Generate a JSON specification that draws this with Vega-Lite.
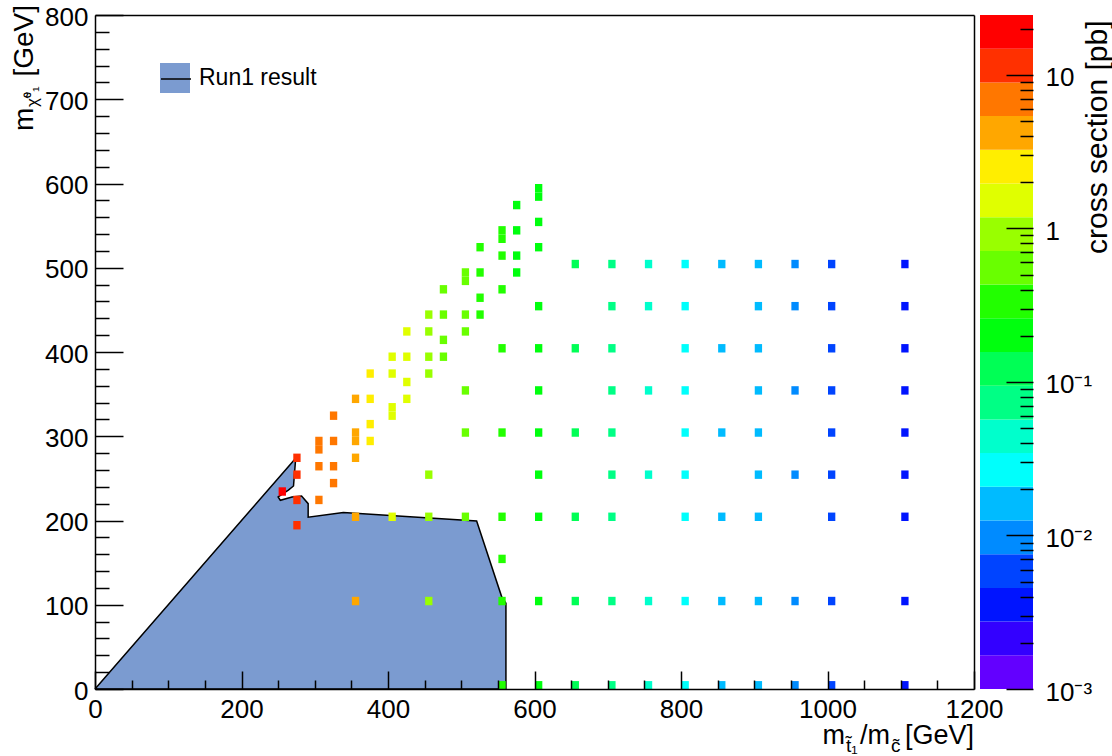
{
  "$schema": "https://vega.github.io/schema/vega-lite/v6.json",
  "background": "white",
  "padding": {"left": 11, "top": 4, "right": 0, "bottom": 0},
  "width": 879,
  "height": 674,
  "config": {
    "font": "Liberation Sans",
    "view": {"stroke": null},
    "text": {"font": "Liberation Sans", "color": "black", "baseline": "alphabetic"},
    "axis": {
      "labelFont": "Liberation Sans", "titleFont": "Liberation Sans",
      "labelColor": "black", "titleColor": "black", "tickColor": "black", "domainColor": "black",
      "labelFontSize": 26, "titleFontSize": 27, "titleFontWeight": "normal",
      "grid": false, "tickWidth": 1.5, "domainWidth": 1.5,
      "labelFlush": false, "labelOverlap": false, "labelBound": false
    }
  },
  "datasets": {
    "run1": [
      {"i": 0, "mstop": 0, "mlsp": 0},
      {"i": 1, "mstop": 274, "mlsp": 274},
      {"i": 2, "mstop": 271, "mlsp": 241},
      {"i": 3, "mstop": 264, "mlsp": 236},
      {"i": 4, "mstop": 250, "mlsp": 228},
      {"i": 5, "mstop": 253, "mlsp": 224},
      {"i": 6, "mstop": 269, "mlsp": 228},
      {"i": 7, "mstop": 282, "mlsp": 229},
      {"i": 8, "mstop": 291, "mlsp": 220},
      {"i": 9, "mstop": 291, "mlsp": 204},
      {"i": 10, "mstop": 339, "mlsp": 209.5},
      {"i": 11, "mstop": 430, "mlsp": 204.5},
      {"i": 12, "mstop": 521, "mlsp": 199.4},
      {"i": 13, "mstop": 555, "mlsp": 110},
      {"i": 14, "mstop": 561, "mlsp": 101.7},
      {"i": 15, "mstop": 561, "mlsp": 0},
      {"i": 16, "mstop": 0, "mlsp": 0}
    ],
    "cells": [
      {"mstop": 250, "mlsp": 230, "xsec": 21.5},
      {"mstop": 270, "mlsp": 270, "xsec": 13.0},
      {"mstop": 270, "mlsp": 250, "xsec": 13.0},
      {"mstop": 270, "mlsp": 220, "xsec": 13.0},
      {"mstop": 270, "mlsp": 190, "xsec": 13.0},
      {"mstop": 300, "mlsp": 290, "xsec": 8.52},
      {"mstop": 300, "mlsp": 280, "xsec": 8.52},
      {"mstop": 300, "mlsp": 260, "xsec": 8.52},
      {"mstop": 300, "mlsp": 220, "xsec": 8.52},
      {"mstop": 320, "mlsp": 320, "xsec": 5.6},
      {"mstop": 320, "mlsp": 290, "xsec": 5.6},
      {"mstop": 320, "mlsp": 260, "xsec": 5.6},
      {"mstop": 320, "mlsp": 240, "xsec": 5.6},
      {"mstop": 350, "mlsp": 340, "xsec": 3.79},
      {"mstop": 350, "mlsp": 300, "xsec": 3.79},
      {"mstop": 350, "mlsp": 290, "xsec": 3.79},
      {"mstop": 350, "mlsp": 270, "xsec": 3.79},
      {"mstop": 350, "mlsp": 200, "xsec": 3.79},
      {"mstop": 350, "mlsp": 100, "xsec": 3.79},
      {"mstop": 370, "mlsp": 370, "xsec": 2.62},
      {"mstop": 370, "mlsp": 340, "xsec": 2.62},
      {"mstop": 370, "mlsp": 310, "xsec": 2.62},
      {"mstop": 370, "mlsp": 290, "xsec": 2.62},
      {"mstop": 400, "mlsp": 390, "xsec": 1.835},
      {"mstop": 400, "mlsp": 370, "xsec": 1.835},
      {"mstop": 400, "mlsp": 330, "xsec": 1.835},
      {"mstop": 400, "mlsp": 320, "xsec": 1.835},
      {"mstop": 400, "mlsp": 200, "xsec": 1.835},
      {"mstop": 420, "mlsp": 420, "xsec": 1.31},
      {"mstop": 420, "mlsp": 390, "xsec": 1.31},
      {"mstop": 420, "mlsp": 360, "xsec": 1.31},
      {"mstop": 420, "mlsp": 340, "xsec": 1.31},
      {"mstop": 450, "mlsp": 440, "xsec": 0.948},
      {"mstop": 450, "mlsp": 420, "xsec": 0.948},
      {"mstop": 450, "mlsp": 390, "xsec": 0.948},
      {"mstop": 450, "mlsp": 370, "xsec": 0.948},
      {"mstop": 450, "mlsp": 250, "xsec": 0.948},
      {"mstop": 450, "mlsp": 200, "xsec": 0.948},
      {"mstop": 450, "mlsp": 100, "xsec": 0.948},
      {"mstop": 470, "mlsp": 470, "xsec": 0.697},
      {"mstop": 470, "mlsp": 440, "xsec": 0.697},
      {"mstop": 470, "mlsp": 410, "xsec": 0.697},
      {"mstop": 470, "mlsp": 390, "xsec": 0.697},
      {"mstop": 500, "mlsp": 490, "xsec": 0.518},
      {"mstop": 500, "mlsp": 480, "xsec": 0.518},
      {"mstop": 500, "mlsp": 440, "xsec": 0.518},
      {"mstop": 500, "mlsp": 420, "xsec": 0.518},
      {"mstop": 500, "mlsp": 350, "xsec": 0.518},
      {"mstop": 500, "mlsp": 300, "xsec": 0.518},
      {"mstop": 500, "mlsp": 200, "xsec": 0.518},
      {"mstop": 520, "mlsp": 520, "xsec": 0.39},
      {"mstop": 520, "mlsp": 490, "xsec": 0.39},
      {"mstop": 520, "mlsp": 460, "xsec": 0.39},
      {"mstop": 520, "mlsp": 440, "xsec": 0.39},
      {"mstop": 550, "mlsp": 540, "xsec": 0.296},
      {"mstop": 550, "mlsp": 530, "xsec": 0.296},
      {"mstop": 550, "mlsp": 510, "xsec": 0.296},
      {"mstop": 550, "mlsp": 470, "xsec": 0.296},
      {"mstop": 550, "mlsp": 400, "xsec": 0.296},
      {"mstop": 550, "mlsp": 300, "xsec": 0.296},
      {"mstop": 550, "mlsp": 200, "xsec": 0.296},
      {"mstop": 550, "mlsp": 150, "xsec": 0.296},
      {"mstop": 550, "mlsp": 100, "xsec": 0.296},
      {"mstop": 550, "mlsp": 0, "xsec": 0.296},
      {"mstop": 570, "mlsp": 570, "xsec": 0.227},
      {"mstop": 570, "mlsp": 540, "xsec": 0.227},
      {"mstop": 570, "mlsp": 510, "xsec": 0.227},
      {"mstop": 570, "mlsp": 490, "xsec": 0.227},
      {"mstop": 600, "mlsp": 590, "xsec": 0.175},
      {"mstop": 600, "mlsp": 580, "xsec": 0.175},
      {"mstop": 600, "mlsp": 550, "xsec": 0.175},
      {"mstop": 600, "mlsp": 520, "xsec": 0.175},
      {"mstop": 600, "mlsp": 450, "xsec": 0.175},
      {"mstop": 600, "mlsp": 400, "xsec": 0.175},
      {"mstop": 600, "mlsp": 350, "xsec": 0.175},
      {"mstop": 600, "mlsp": 300, "xsec": 0.175},
      {"mstop": 600, "mlsp": 250, "xsec": 0.175},
      {"mstop": 600, "mlsp": 200, "xsec": 0.175},
      {"mstop": 600, "mlsp": 100, "xsec": 0.175},
      {"mstop": 600, "mlsp": 0, "xsec": 0.175},
      {"mstop": 650, "mlsp": 500, "xsec": 0.107},
      {"mstop": 650, "mlsp": 400, "xsec": 0.107},
      {"mstop": 650, "mlsp": 300, "xsec": 0.107},
      {"mstop": 650, "mlsp": 200, "xsec": 0.107},
      {"mstop": 650, "mlsp": 100, "xsec": 0.107},
      {"mstop": 650, "mlsp": 0, "xsec": 0.107},
      {"mstop": 700, "mlsp": 500, "xsec": 0.067},
      {"mstop": 700, "mlsp": 450, "xsec": 0.067},
      {"mstop": 700, "mlsp": 400, "xsec": 0.067},
      {"mstop": 700, "mlsp": 350, "xsec": 0.067},
      {"mstop": 700, "mlsp": 300, "xsec": 0.067},
      {"mstop": 700, "mlsp": 250, "xsec": 0.067},
      {"mstop": 700, "mlsp": 200, "xsec": 0.067},
      {"mstop": 700, "mlsp": 100, "xsec": 0.067},
      {"mstop": 700, "mlsp": 0, "xsec": 0.067},
      {"mstop": 750, "mlsp": 500, "xsec": 0.0431},
      {"mstop": 750, "mlsp": 450, "xsec": 0.0431},
      {"mstop": 750, "mlsp": 350, "xsec": 0.0431},
      {"mstop": 750, "mlsp": 250, "xsec": 0.0431},
      {"mstop": 750, "mlsp": 100, "xsec": 0.0431},
      {"mstop": 750, "mlsp": 0, "xsec": 0.0431},
      {"mstop": 800, "mlsp": 500, "xsec": 0.0283},
      {"mstop": 800, "mlsp": 450, "xsec": 0.0283},
      {"mstop": 800, "mlsp": 400, "xsec": 0.0283},
      {"mstop": 800, "mlsp": 350, "xsec": 0.0283},
      {"mstop": 800, "mlsp": 300, "xsec": 0.0283},
      {"mstop": 800, "mlsp": 250, "xsec": 0.0283},
      {"mstop": 800, "mlsp": 200, "xsec": 0.0283},
      {"mstop": 800, "mlsp": 100, "xsec": 0.0283},
      {"mstop": 800, "mlsp": 0, "xsec": 0.0283},
      {"mstop": 850, "mlsp": 500, "xsec": 0.019},
      {"mstop": 850, "mlsp": 400, "xsec": 0.019},
      {"mstop": 850, "mlsp": 300, "xsec": 0.019},
      {"mstop": 850, "mlsp": 200, "xsec": 0.019},
      {"mstop": 850, "mlsp": 100, "xsec": 0.019},
      {"mstop": 850, "mlsp": 0, "xsec": 0.019},
      {"mstop": 900, "mlsp": 500, "xsec": 0.0128},
      {"mstop": 900, "mlsp": 450, "xsec": 0.0128},
      {"mstop": 900, "mlsp": 400, "xsec": 0.0128},
      {"mstop": 900, "mlsp": 350, "xsec": 0.0128},
      {"mstop": 900, "mlsp": 300, "xsec": 0.0128},
      {"mstop": 900, "mlsp": 250, "xsec": 0.0128},
      {"mstop": 900, "mlsp": 200, "xsec": 0.0128},
      {"mstop": 900, "mlsp": 100, "xsec": 0.0128},
      {"mstop": 900, "mlsp": 0, "xsec": 0.0128},
      {"mstop": 950, "mlsp": 500, "xsec": 0.00883},
      {"mstop": 950, "mlsp": 450, "xsec": 0.00883},
      {"mstop": 950, "mlsp": 350, "xsec": 0.00883},
      {"mstop": 950, "mlsp": 250, "xsec": 0.00883},
      {"mstop": 950, "mlsp": 100, "xsec": 0.00883},
      {"mstop": 950, "mlsp": 0, "xsec": 0.00883},
      {"mstop": 1000, "mlsp": 500, "xsec": 0.00615},
      {"mstop": 1000, "mlsp": 450, "xsec": 0.00615},
      {"mstop": 1000, "mlsp": 400, "xsec": 0.00615},
      {"mstop": 1000, "mlsp": 350, "xsec": 0.00615},
      {"mstop": 1000, "mlsp": 300, "xsec": 0.00615},
      {"mstop": 1000, "mlsp": 250, "xsec": 0.00615},
      {"mstop": 1000, "mlsp": 200, "xsec": 0.00615},
      {"mstop": 1000, "mlsp": 100, "xsec": 0.00615},
      {"mstop": 1000, "mlsp": 0, "xsec": 0.00615},
      {"mstop": 1100, "mlsp": 500, "xsec": 0.00307},
      {"mstop": 1100, "mlsp": 450, "xsec": 0.00307},
      {"mstop": 1100, "mlsp": 400, "xsec": 0.00307},
      {"mstop": 1100, "mlsp": 350, "xsec": 0.00307},
      {"mstop": 1100, "mlsp": 300, "xsec": 0.00307},
      {"mstop": 1100, "mlsp": 250, "xsec": 0.00307},
      {"mstop": 1100, "mlsp": 200, "xsec": 0.00307},
      {"mstop": 1100, "mlsp": 100, "xsec": 0.00307},
      {"mstop": 1100, "mlsp": 0, "xsec": 0.00307}
    ],
    "bands": [
      {"lo": 0.001, "hi": 0.0016577},
      {"lo": 0.0016577, "hi": 0.002748},
      {"lo": 0.002748, "hi": 0.0045554},
      {"lo": 0.0045554, "hi": 0.0075516},
      {"lo": 0.0075516, "hi": 0.012518},
      {"lo": 0.012518, "hi": 0.020751},
      {"lo": 0.020751, "hi": 0.0344},
      {"lo": 0.0344, "hi": 0.057025},
      {"lo": 0.057025, "hi": 0.094531},
      {"lo": 0.094531, "hi": 0.1567},
      {"lo": 0.1567, "hi": 0.25977},
      {"lo": 0.25977, "hi": 0.43063},
      {"lo": 0.43063, "hi": 0.71386},
      {"lo": 0.71386, "hi": 1.18336},
      {"lo": 1.18336, "hi": 1.9617},
      {"lo": 1.9617, "hi": 3.2519},
      {"lo": 3.2519, "hi": 5.3907},
      {"lo": 5.3907, "hi": 8.9362},
      {"lo": 8.9362, "hi": 14.814},
      {"lo": 14.814, "hi": 24.557}
    ]
  },
  "layer": [
    {
      "layer": [
        {
          "data": {"name": "run1"},
          "mark": {"type": "line", "strokeWidth": 1.5, "strokeJoin": "miter"},
          "encoding": {
            "x": {
              "field": "mstop", "type": "quantitative",
              "scale": {"domain": [0, 1200], "nice": false, "zero": false},
              "axis": {
                "orient": "bottom", "values": [0, 200, 400, 600, 800, 1000, 1200], "format": "d",
                "tickSize": -18, "labelPadding": 25, "zindex": 1, "title": null
              }
            },
            "y": {
              "field": "mlsp", "type": "quantitative",
              "scale": {"domain": [0, 800], "nice": false, "zero": false},
              "axis": {
                "orient": "left", "values": [0, 100, 200, 300, 400, 500, 600, 700, 800], "format": "d",
                "tickSize": -28, "labelPadding": 35, "labelOffset": 2, "zindex": 1, "title": null
              }
            },
            "order": {"field": "i", "type": "quantitative"},
            "fill": {
              "datum": "Run1 result", "type": "nominal",
              "scale": {"range": ["#7b9bd0"]},
              "legend": {
                "orient": "none", "legendX": 65, "legendY": 48, "title": null,
                "symbolType": "square", "symbolSize": 900, "symbolStrokeWidth": 0,
                "symbolOpacity": 1, "labelFontSize": 23, "labelOffset": 9,
                "labelColor": "black", "labelFont": "Liberation Sans", "padding": 0
              }
            },
            "stroke": {
              "datum": "Run1 result ", "type": "nominal",
              "scale": {"range": ["black"]},
              "legend": {
                "orient": "none", "legendX": 65, "legendY": 48, "title": null,
                "symbolType": "stroke", "symbolSize": 900, "symbolStrokeWidth": 1.5,
                "labelFontSize": 23, "labelOffset": 9, "labelOpacity": 0, "padding": 0
              }
            }
          }
        },
        {
          "data": {"name": "cells"},
          "mark": {"type": "rect"},
          "encoding": {
            "x": {
              "field": "mstop", "type": "quantitative", "bin": {"binned": true, "step": 10},
              "scale": {"domain": [0, 1200], "nice": false, "zero": false},
              "axis": {
                "orient": "bottom",
                "values": [50, 100, 150, 250, 300, 350, 450, 500, 550, 650, 700, 750, 850, 900, 950, 1050, 1100, 1150],
                "labels": false, "domain": false, "tickSize": -9, "title": null, "zindex": 1
              }
            },
            "y": {
              "field": "mlsp", "type": "quantitative", "bin": {"binned": true, "step": 10},
              "scale": {"domain": [0, 800], "nice": false, "zero": false},
              "axis": {
                "orient": "left",
                "values": [20, 40, 60, 80, 120, 140, 160, 180, 220, 240, 260, 280, 320, 340, 360, 380, 420, 440, 460, 480, 520, 540, 560, 580, 620, 640, 660, 680, 720, 740, 760, 780],
                "labels": false, "domain": false, "tickSize": -14, "title": null, "zindex": 1
              }
            },
            "color": {
              "field": "xsec", "type": "quantitative",
              "scale": {
                "type": "threshold",
                "domain": [0.0016577, 0.002748, 0.0045554, 0.0075516, 0.012518, 0.020751, 0.0344, 0.057025, 0.094531, 0.1567, 0.25977, 0.43063, 0.71386, 1.18336, 1.9617, 3.2519, 5.3907, 8.9362, 14.814],
                "range": ["#6300ff", "#3300ff", "#0014ff", "#0044ff", "#008bff", "#00bbff", "#00fffc", "#00ffcc", "#00ff85", "#00ff55", "#00ff0e", "#22ff00", "#69ff00", "#99ff00", "#e0ff00", "#ffee00", "#ffa700", "#ff7700", "#ff3000", "#ff0000"]
              },
              "legend": null
            }
          }
        },
        {
          "data": {"values": [{}]},
          "mark": {"type": "text", "fontSize": 19, "align": "left"},
          "encoding": {
            "x": {"datum": 1025.3, "type": "quantitative", "scale": {"domain": [0, 1200], "nice": false, "zero": false},
                  "axis": {"orient": "top", "labels": false, "ticks": false, "domain": true, "title": null, "values": []}},
            "y": {"datum": -74.2, "type": "quantitative", "scale": {"domain": [0, 800], "nice": false, "zero": false},
                  "axis": {"orient": "right", "labels": false, "ticks": false, "domain": true, "title": null, "values": []}},
            "text": {"value": "t̃₁"}
          }
        },
        {
          "data": {"values": [{}]},
          "mark": {"type": "text", "fontSize": 27, "align": "left"},
          "encoding": {
            "x": {"datum": 993.2, "type": "quantitative", "scale": {"domain": [0, 1200], "nice": false, "zero": false}, "axis": null},
            "y": {"datum": -65.3, "type": "quantitative", "scale": {"domain": [0, 800], "nice": false, "zero": false}, "axis": null},
            "text": {"value": "m"}
          }
        },
        {
          "data": {"values": [{}]},
          "mark": {"type": "text", "fontSize": 27, "align": "left"},
          "encoding": {
            "x": {"datum": 1044.4, "type": "quantitative", "scale": {"domain": [0, 1200], "nice": false, "zero": false}, "axis": null},
            "y": {"datum": -65.3, "type": "quantitative", "scale": {"domain": [0, 800], "nice": false, "zero": false}, "axis": null},
            "text": {"value": "/m"}
          }
        },
        {
          "data": {"values": [{}]},
          "mark": {"type": "text", "fontSize": 19, "align": "left"},
          "encoding": {
            "x": {"datum": 1086.7, "type": "quantitative", "scale": {"domain": [0, 1200], "nice": false, "zero": false}, "axis": null},
            "y": {"datum": -74.2, "type": "quantitative", "scale": {"domain": [0, 800], "nice": false, "zero": false}, "axis": null},
            "text": {"value": "c̃"}
          }
        },
        {
          "data": {"values": [{}]},
          "mark": {"type": "text", "fontSize": 27, "align": "right"},
          "encoding": {
            "x": {"datum": 1200, "type": "quantitative", "scale": {"domain": [0, 1200], "nice": false, "zero": false}, "axis": null},
            "y": {"datum": -65.3, "type": "quantitative", "scale": {"domain": [0, 800], "nice": false, "zero": false}, "axis": null},
            "text": {"value": "[GeV]"}
          }
        },
        {
          "data": {"values": [{}]},
          "mark": {"type": "text", "fontSize": 28, "align": "left", "angle": 270},
          "encoding": {
            "x": {"datum": -84.6, "type": "quantitative", "scale": {"domain": [0, 1200], "nice": false, "zero": false}, "axis": null},
            "y": {"datum": 662.3, "type": "quantitative", "scale": {"domain": [0, 800], "nice": false, "zero": false}, "axis": null},
            "text": {"value": "m"}
          }
        },
        {
          "data": {"values": [{}]},
          "mark": {"type": "text", "fontSize": 17, "align": "left", "angle": 270},
          "encoding": {
            "x": {"datum": -77.8, "type": "quantitative", "scale": {"domain": [0, 1200], "nice": false, "zero": false}, "axis": null},
            "y": {"datum": 690.8, "type": "quantitative", "scale": {"domain": [0, 800], "nice": false, "zero": false}, "axis": null},
            "text": {"value": "χ̃⁰₁"}
          }
        },
        {
          "data": {"values": [{}]},
          "mark": {"type": "text", "fontSize": 28, "align": "right", "angle": 270},
          "encoding": {
            "x": {"datum": -84.6, "type": "quantitative", "scale": {"domain": [0, 1200], "nice": false, "zero": false}, "axis": null},
            "y": {"datum": 811.9, "type": "quantitative", "scale": {"domain": [0, 800], "nice": false, "zero": false}, "axis": null},
            "text": {"value": "[GeV]"}
          }
        }
      ],
      "resolve": {"axis": {"x": "independent", "y": "independent"}}
    },
    {
      "data": {"name": "bands"},
      "layer": [
        {
          "mark": {"type": "rect"},
          "encoding": {
            "x": {"datum": 0, "type": "quantitative", "scale": {"domain": [0, 1], "range": [885, 938]}, "axis": null},
            "x2": {"datum": 1},
            "y": {
              "field": "lo", "type": "quantitative",
              "scale": {"type": "log", "domain": [0.001, 24.557], "nice": false},
              "axis": {
                "orient": "right", "offset": 59, "values": [0.001, 0.01, 0.1, 1, 10],
                "labelExpr": "datum.value < 0.002 ? '10⁻³' : datum.value < 0.02 ? '10⁻²' : datum.value < 0.2 ? '10⁻¹' : datum.value < 2 ? '1' : '10'",
                "tickSize": -27, "labelPadding": 39, "labelOffset": 3, "domain": false, "zindex": 1,
                "title": "cross section [pb]", "titleAngle": 270, "titleAlign": "right",
                "titleBaseline": "alphabetic", "titleX": 73, "titleY": 5, "titleFontSize": 30
              }
            },
            "y2": {"field": "hi"},
            "color": {
              "field": "lo", "type": "quantitative",
              "scale": {
                "type": "threshold",
                "domain": [0.0016577, 0.002748, 0.0045554, 0.0075516, 0.012518, 0.020751, 0.0344, 0.057025, 0.094531, 0.1567, 0.25977, 0.43063, 0.71386, 1.18336, 1.9617, 3.2519, 5.3907, 8.9362, 14.814],
                "range": ["#6300ff", "#3300ff", "#0014ff", "#0044ff", "#008bff", "#00bbff", "#00fffc", "#00ffcc", "#00ff85", "#00ff55", "#00ff0e", "#22ff00", "#69ff00", "#99ff00", "#e0ff00", "#ffee00", "#ffa700", "#ff7700", "#ff3000", "#ff0000"]
              },
              "legend": null
            }
          }
        },
        {
          "mark": {"type": "rect", "opacity": 0},
          "encoding": {
            "x": {"datum": 0, "type": "quantitative", "scale": {"domain": [0, 1], "range": [885, 938]}, "axis": null},
            "x2": {"datum": 1},
            "y": {
              "field": "lo", "type": "quantitative",
              "scale": {"type": "log", "domain": [0.001, 24.557], "nice": false},
              "axis": {
                "orient": "right", "offset": 59,
                "values": [0.002, 0.003, 0.004, 0.005, 0.006, 0.007, 0.008, 0.009, 0.02, 0.03, 0.04, 0.05, 0.06, 0.07, 0.08, 0.09, 0.2, 0.3, 0.4, 0.5, 0.6, 0.7, 0.8, 0.9, 2, 3, 4, 5, 6, 7, 8, 9, 20],
                "labels": false, "domain": false, "tickSize": -13, "title": null, "zindex": 1
              }
            },
            "y2": {"field": "hi"}
          }
        }
      ],
      "resolve": {"axis": {"y": "independent"}}
    }
  ],
  "resolve": {
    "scale": {"x": "independent", "y": "independent", "color": "independent"},
    "axis": {"x": "independent", "y": "independent"}
  }
}
